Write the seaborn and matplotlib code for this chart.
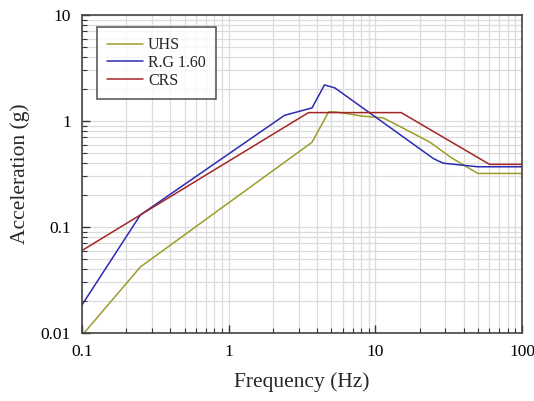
import numpy as np
import pandas as pd
import seaborn as sns
import matplotlib.pyplot as plt
from matplotlib.ticker import LogLocator, NullFormatter, FixedLocator, FixedFormatter

# spectra (frequency Hz, acceleration g)
uhs_f = [0.1, 0.25, 3.7, 4.8, 5.3, 6.5, 8.2, 11.3, 14, 23.6, 33, 50, 100]
uhs_a = [0.0095, 0.042, 0.63, 1.22, 1.22, 1.17, 1.11, 1.07, 0.92, 0.63, 0.45, 0.32, 0.32]
rg_f = [0.1, 0.25, 2.4, 3.7, 4.5, 5.3, 25, 29, 50, 100]
rg_a = [0.0184, 0.13, 1.13, 1.33, 2.19, 2.05, 0.44, 0.40, 0.37, 0.37]
crs_f = [0.1, 0.25, 3.5, 15, 60, 100]
crs_a = [0.06, 0.13, 1.2, 1.2, 0.39, 0.39]

names = ["UHS", "R.G 1.60", "CRS"]
colors = ["#9c9c2a", "#2b2bb0", "#a32626"]

df = pd.concat([
    pd.DataFrame({"f": uhs_f, "a": uhs_a, "s": "UHS"}),
    pd.DataFrame({"f": rg_f, "a": rg_a, "s": "R.G 1.60"}),
    pd.DataFrame({"f": crs_f, "a": crs_a, "s": "CRS"}),
])

sns.set_style("white")
plt.rcParams["font.family"] = ["Liberation Serif", "DejaVu Serif"]

fig = plt.figure(figsize=(5.34, 4.01), dpi=100)
ax = fig.add_axes([0.1536, 0.1696, 0.824, 0.793])

sns.lineplot(data=df, x="f", y="a", hue="s", hue_order=names,
             palette=colors, sort=False, estimator=None, linewidth=1.1, ax=ax)

ax.set_xscale("log")
ax.set_yscale("log")
ax.set_xlim(0.1, 100)
ax.set_ylim(0.01, 10)

ax.xaxis.set_major_locator(FixedLocator([0.1, 1, 10, 100]))
ax.xaxis.set_major_formatter(FixedFormatter(["0.1", "1", "10", "100"]))
ax.yaxis.set_major_locator(FixedLocator([0.01, 0.1, 1, 10]))
ax.yaxis.set_major_formatter(FixedFormatter(["0.01", "0.1", "1", "10"]))
for axis in (ax.xaxis, ax.yaxis):
    axis.set_minor_locator(LogLocator(base=10, subs=np.arange(2, 10)))
    axis.set_minor_formatter(NullFormatter())

ax.grid(True, which="both", color="#dcdcdc", linewidth=0.9)
ax.set_axisbelow(True)
ax.tick_params(which="both", direction="in", left=True, bottom=True, colors="#333333",
               labelcolor="black", labelsize=12.5, pad=8)
ax.tick_params(which="major", length=6, width=1)
ax.tick_params(which="minor", length=3.5, width=0.8)
for sp in ax.spines.values():
    sp.set_color("#444444")
    sp.set_linewidth(1.2)

ax.set_xlabel("Frequency (Hz)", fontsize=15.5, labelpad=9)
ax.set_ylabel("Acceleration (g)", fontsize=15.5, labelpad=8)

leg = ax.legend(loc="upper left", bbox_to_anchor=(0.034, 0.962), fontsize=11.5,
                frameon=True, fancybox=False, handlelength=2.2, handletextpad=0.35,
                labelspacing=0.1, borderpad=0.65, borderaxespad=0)
leg.get_frame().set_edgecolor("#333333")
leg.get_frame().set_linewidth(1.2)
leg.set_title(None)

fig.savefig("out.png", dpi=100)
